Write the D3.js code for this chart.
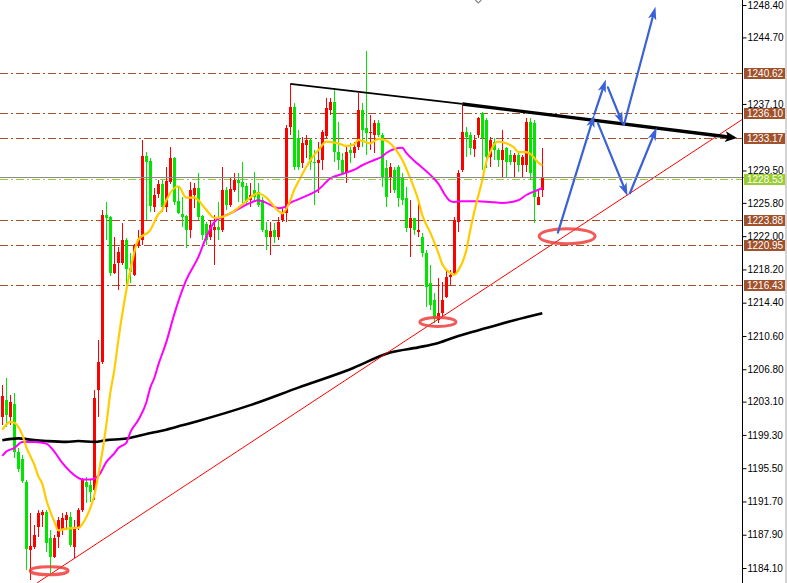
<!DOCTYPE html>
<html><head><meta charset="utf-8">
<script src="https://cdn.jsdelivr.net/npm/d3@7"></script>
<style>
body{margin:0;background:#fff;overflow:hidden}
svg{display:block}
text{font-family:"Liberation Sans",Arial,sans-serif;font-size:10px}
</style>
</head><body>
<svg id="c" width="787" height="583"></svg>
<script>
// ---------- DATA ----------
const opens=[1201.4,1203.3,1201.4,1202.8,1197.4,1196.6,1193.9,1186.2,1186.5,1188.8,
1190.2,1190.5,1187.5,1185.4,1187.6,1188.4,1189.6,1189.9,1186.5,1188.8,
1190.7,1193.9,1193.6,1193.0,1204.4,1207.6,1224.4,1224.2,1217.8,1218.9,
1218.9,1221.6,1218.4,1217.6,1220.9,1221.6,1231.1,1230.6,1225.3,1226.8,
1228.0,1225.3,1228.2,1230.9,1226.0,1224.5,1224.3,1222.7,1226.7,1227.5,
1224.3,1223.4,1221.9,1222.7,1223.0,1222.7,1227.3,1225.6,1227.3,1228.4,
1228.2,1227.7,1226.1,1227.3,1227.0,1226.1,1222.7,1221.9,1222.7,1221.9,
1223.8,1224.6,1234.5,1236.7,1233.2,1230.3,1232.4,1233.0,1230.5,1230.3,
1230.7,1233.4,1236.4,1237.3,1231.6,1230.7,1229.2,1231.8,1231.5,1232.2,
1236.4,1234.4,1233.8,1233.6,1234.9,1233.6,1229.8,1228.8,1229.6,1229.9,
1228.8,1226.4,1222.9,1224.1,1222.5,1221.9,1220.1,1216.7,1214.7,1212.4,
1213.2,1215.1,1217.3,1217.8,1223.6,1229.6,1233.9,1233.6,1232.0,1233.6,
1236.1,1235.3,1231.0,1232.7,1231.8,1230.7,1232.1,1231.3,1230.5,1231.3,
1230.1,1230.1,1235.0,1234.9,1225.6,1227.3];
const highs=[1205.0,1205.8,1203.9,1204.1,1197.8,1197.0,1194.2,1190.4,1189.0,1190.7,
1190.7,1190.7,1188.4,1187.9,1189.9,1190.4,1190.5,1190.5,1189.6,1191.0,
1194.4,1194.5,1194.2,1204.4,1210.1,1225.0,1225.9,1224.3,1221.9,1220.8,
1223.5,1221.8,1220.1,1221.1,1222.7,1233.0,1231.6,1230.9,1227.5,1228.4,
1228.4,1229.9,1232.2,1231.0,1227.6,1226.5,1224.4,1228.2,1228.1,1229.2,
1224.4,1223.6,1223.8,1224.4,1225.9,1229.9,1227.6,1228.6,1229.2,1229.2,
1230.5,1228.1,1228.1,1229.3,1228.1,1226.5,1223.6,1223.6,1223.5,1224.2,
1225.3,1234.7,1239.4,1237.2,1234.1,1233.3,1233.6,1233.2,1231.8,1232.8,
1234.1,1237.8,1237.8,1238.9,1235.0,1231.5,1232.2,1232.6,1232.8,1238.3,
1237.2,1243.1,1235.8,1235.3,1235.3,1233.8,1230.7,1230.4,1229.9,1230.1,
1229.2,1227.6,1226.1,1224.1,1226.1,1222.4,1220.4,1218.7,1215.5,1217.2,
1216.8,1218.1,1218.1,1224.2,1229.6,1237.0,1234.5,1233.9,1233.6,1235.6,
1236.2,1235.5,1233.3,1233.2,1232.1,1234.1,1232.2,1231.8,1231.5,1231.5,
1231.3,1235.5,1235.5,1235.3,1227.3,1232.1];
const lows=[1200.4,1200.2,1200.4,1196.7,1195.1,1193.8,1183.9,1182.7,1186.3,1187.6,
1188.8,1185.9,1183.5,1185.2,1186.4,1187.9,1188.4,1186.5,1185.2,1188.4,
1190.5,1191.5,1191.6,1191.9,1201.4,1207.4,1221.6,1217.5,1217.7,1215.9,
1218.7,1216.2,1216.6,1217.4,1220.6,1221.0,1223.8,1224.8,1224.8,1226.4,
1224.8,1224.8,1228.0,1225.6,1224.5,1223.0,1220.6,1221.8,1225.2,1223.8,
1221.6,1221.0,1221.6,1218.7,1221.6,1222.5,1225.0,1225.3,1227.0,1225.9,
1225.8,1225.6,1225.3,1225.9,1225.3,1222.5,1220.4,1219.9,1221.2,1221.6,
1223.6,1223.6,1233.6,1229.6,1229.6,1229.8,1230.9,1229.6,1225.6,1226.9,
1229.6,1233.2,1235.8,1230.5,1229.6,1229.0,1228.1,1230.4,1230.9,1231.8,
1232.2,1231.3,1231.8,1231.5,1233.3,1227.6,1225.3,1226.9,1226.9,1225.3,
1225.6,1222.5,1219.6,1222.1,1221.9,1219.6,1213.9,1213.6,1212.1,1212.1,
1212.8,1214.9,1216.4,1217.6,1222.5,1229.3,1231.0,1231.3,1231.0,1233.2,
1229.6,1229.8,1229.9,1230.7,1229.9,1228.8,1228.6,1230.1,1228.6,1229.3,
1228.6,1229.3,1228.4,1223.5,1225.6,1226.5];
const closes=[1203.7,1201.6,1203.1,1197.4,1195.4,1194.0,1186.3,1186.6,1187.9,1190.4,
1190.5,1187.0,1185.4,1187.5,1189.6,1189.8,1190.2,1186.7,1188.8,1190.7,
1194.2,1193.4,1192.8,1203.5,1207.6,1224.4,1224.1,1217.8,1218.8,1220.2,
1221.6,1218.3,1217.9,1221.0,1221.7,1231.1,1230.5,1225.4,1226.7,1228.0,
1225.3,1228.3,1230.9,1225.9,1224.6,1224.2,1222.7,1227.3,1227.5,1224.2,
1222.1,1221.6,1223.3,1223.0,1222.7,1227.3,1225.6,1227.4,1228.4,1228.1,
1227.6,1225.9,1226.7,1226.5,1225.6,1222.7,1221.9,1222.6,1221.9,1223.6,
1224.8,1234.4,1236.7,1229.9,1229.9,1232.6,1233.0,1230.5,1230.3,1230.7,
1233.9,1236.6,1237.3,1231.6,1230.7,1229.2,1231.6,1231.5,1232.2,1236.4,
1234.1,1233.8,1233.9,1234.9,1233.6,1228.6,1226.5,1229.9,1227.3,1226.4,
1226.1,1222.9,1224.1,1222.7,1222.7,1220.1,1216.2,1214.1,1212.7,1213.2,
1214.7,1217.3,1217.6,1223.8,1229.2,1233.9,1233.3,1232.1,1233.0,1235.5,
1233.2,1231.0,1233.0,1231.8,1230.7,1231.8,1230.5,1230.5,1231.3,1230.1,
1231.0,1235.0,1229.2,1226.5,1226.5,1228.6];

// moving averages: [bar index, price]
const maFast=[[0,1199.9],[2,1200.8],[3,1200.7],[5,1199.3],[6,1197.9],[8,1195.9],[9,1194.6],[10,1193.7],[11,1191.9],[13,1189.4],[14,1188.4],[16,1188.6],[19,1188.7],[21,1189.9],[23,1192.4],[24,1194.7],[26,1200.4],[27,1204.1],[28,1206.7],[29,1210.1],[31,1215.8],[32,1218.1],[34,1221.6],[37,1222.7],[39,1224.5],[40,1225.0],[41,1226.1],[44,1227.7],[46,1226.4],[48,1226.4],[51,1225.0],[53,1224.1],[55,1224.2],[57,1224.6],[60,1225.6],[64,1226.9],[66,1226.4],[69,1224.9],[70,1224.6],[72,1226.1],[73,1227.3],[74,1228.2],[76,1229.9],[78,1231.3],[79,1231.8],[81,1232.8],[84,1232.6],[86,1232.3],[88,1232.5],[89,1233.0],[92,1232.6],[94,1233.1],[96,1232.9],[98,1232.1],[100,1230.7],[102,1228.6],[104,1226.1],[105,1224.4],[107,1222.4],[109,1220.1],[110,1218.8],[112,1217.8],[113,1217.6],[114,1218.1],[116,1220.4],[117,1222.7],[118,1224.8],[120,1228.4],[121,1230.5],[122,1231.6],[123,1232.5],[124,1232.8],[126,1232.6],[128,1232.1],[129,1231.6],[131,1231.6],[132,1231.4],[134,1230.4],[135,1230.1]];
const maMid=[[0,1196.9],[1,1197.4],[3,1197.8],[5,1198.5],[8,1198.5],[10,1198.4],[11,1198.3],[13,1197.4],[15,1196.1],[17,1195.1],[19,1194.4],[20,1194.2],[22,1194.2],[24,1194.6],[26,1196.2],[28,1197.2],[29,1197.8],[31,1198.4],[32,1199.6],[34,1201.0],[36,1203.0],[37,1204.7],[38,1205.8],[39,1207.3],[41,1209.9],[43,1213.1],[46,1217.0],[49,1219.6],[51,1221.9],[53,1223.6],[55,1224.2],[57,1224.6],[59,1225.1],[62,1225.8],[64,1226.1],[66,1225.8],[69,1225.2],[71,1225.4],[72,1225.8],[74,1226.2],[77,1226.8],[79,1227.3],[82,1228.6],[85,1229.1],[88,1229.6],[90,1230.1],[93,1230.7],[95,1231.1],[96,1231.5],[100,1232.1],[101,1231.5],[104,1230.2],[107,1229.0],[109,1228.0],[111,1226.5],[112,1226.0],[113,1225.9],[115,1226.0],[119,1226.0],[122,1225.9],[125,1225.8],[129,1226.1],[131,1226.7],[134,1227.3],[135,1227.5]];
const maSlow=[[0,1198.7],[4,1198.9],[8,1198.7],[11,1198.6],[16,1198.5],[19,1198.6],[23,1198.5],[26,1198.7],[31,1198.9],[35,1199.3],[38,1199.6],[41,1199.9],[45,1200.4],[49,1200.9],[62,1202.7],[74,1204.7],[87,1206.8],[97,1208.7],[104,1209.3],[109,1209.8],[114,1210.6],[121,1211.5],[128,1212.4],[135,1213.2]];

// visible scale ticks (1240.90 and 1233.30 are hidden under price tags in the original)
const yTicks=[1248.40,1244.70,1237.10,1229.50,1225.80,1222.00,1218.20,1214.40,1210.60,1206.80,1203.10,1199.30,1195.50,1191.70,1187.90,1184.10];
const levelPrices=[1240.62,1236.10,1233.17,1223.88,1220.95,1216.43];
const bidPrice=1228.72;
const askPrice=1228.53;

// annotations in [bar index, price]
const resistanceLine=[[72,1239.4],[115,1237.1],[183.7,1233.2]];
const supportLine=[[8.7,1182.4],[184.9,1235.3]];
const circledPoints=[[11.7,1183.8],[108.9,1212.2],[141.2,1222.0]];
const forecastArrows=[
 [[138.9,1222.4],[148.0,1235.9]],
 [[148.0,1235.9],[150.9,1239.9]],
 [[151.4,1239.0],[155.2,1234.7]],
 [[155.4,1234.7],[163.3,1248.2]],
 [[148.9,1234.9],[156.3,1226.6]],
 [[156.9,1226.9],[163.6,1234.4]]
];
const topMarker=[119,1249.0];

// ---------- DRAW ----------
const W=787,H=583,axisX=742;
const svg=d3.select("#c");
const x=d3.scaleLinear().domain([0,135]).range([2.3,542.3]);
const y=d3.scaleLinear().domain([1184.1,1248.4]).range([568,5]);

svg.append("rect").attr("width",W).attr("height",H).attr("fill","#fff");
svg.append("defs").append("clipPath").attr("id","plot")
  .append("rect").attr("x",0).attr("y",0).attr("width",axisX).attr("height",H);
const g=svg.append("g").attr("clip-path","url(#plot)");

// level lines
g.selectAll("line.lvl").data(levelPrices).join("line")
 .attr("x1",0).attr("x2",axisX)
 .attr("y1",d=>Math.round(y(d))+0.5).attr("y2",d=>Math.round(y(d))+0.5)
 .attr("stroke","#a0522d").attr("stroke-width",1).attr("stroke-dasharray","8,3,2,3");
// bid / ask lines
svg.append("line").attr("x1",0).attr("x2",W)
 .attr("y1",Math.round(y(bidPrice))+0.5).attr("y2",Math.round(y(bidPrice))+0.5)
 .attr("stroke","#8a8a8a").attr("stroke-width",1);
g.append("line").attr("x1",0).attr("x2",axisX)
 .attr("y1",Math.round(y(askPrice))+0.5).attr("y2",Math.round(y(askPrice))+0.5)
 .attr("stroke","#9acd32").attr("stroke-width",1).attr("stroke-dasharray","8,3,2,3");

// candles
const bars=opens.map((o,i)=>({i,o,h:highs[i],l:lows[i],c:closes[i]}));
const col=d=>d.c>=d.o?"#ff0000":"#00e600";
const cg=g.append("g").attr("shape-rendering","crispEdges");
cg.selectAll("line.w").data(bars).join("line")
 .attr("x1",d=>Math.round(x(d.i))+0.5).attr("x2",d=>Math.round(x(d.i))+0.5)
 .attr("y1",d=>y(d.h)).attr("y2",d=>y(d.l))
 .attr("stroke",col).attr("stroke-width",1);
cg.selectAll("rect.b").data(bars).join("rect")
 .attr("x",d=>Math.round(x(d.i))-1).attr("width",3)
 .attr("y",d=>y(Math.max(d.o,d.c)))
 .attr("height",d=>Math.max(1,Math.abs(y(d.o)-y(d.c))))
 .attr("fill",col);

// moving averages
const line=d3.line().x(d=>x(d[0])).y(d=>y(d[1])).curve(d3.curveMonotoneX);
g.append("path").attr("d",line(maSlow)).attr("fill","none").attr("stroke","#000").attr("stroke-width",2.6);
g.append("path").attr("d",line(maMid)).attr("fill","none").attr("stroke","#ff00ff").attr("stroke-width",2);
g.append("path").attr("d",line(maFast)).attr("fill","none").attr("stroke","#ffcc00").attr("stroke-width",2.2);

// support (red) line
g.append("line")
 .attr("x1",x(supportLine[0][0])).attr("y1",y(supportLine[0][1]))
 .attr("x2",x(supportLine[1][0])).attr("y2",y(supportLine[1][1]))
 .attr("stroke","#ff0000").attr("stroke-width",1);

// resistance (black) line
const r=resistanceLine.map(p=>[x(p[0]),y(p[1])]);
g.append("line").attr("x1",r[0][0]).attr("y1",r[0][1]).attr("x2",r[1][0]).attr("y2",r[1][1])
 .attr("stroke","#000").attr("stroke-width",1.8);
function head(sel,p0,p1,len,half,color){
  const dx=p1[0]-p0[0],dy=p1[1]-p0[1],L=Math.hypot(dx,dy),ux=dx/L,uy=dy/L;
  const bx=p1[0]-ux*len,by=p1[1]-uy*len;
  sel.append("path").attr("d",`M${p1[0]},${p1[1]}L${bx-uy*half},${by+ux*half}L${bx+ux*len*0.25},${by+uy*len*0.25}L${bx+uy*half},${by-ux*half}Z`).attr("fill",color);
  return [bx+ux*len*0.3,by+uy*len*0.3];
}
{
  const end=head(svg,r[1],r[2],12,5.5,"#000");
  g.append("line").attr("x1",r[1][0]).attr("y1",r[1][1]).attr("x2",end[0]).attr("y2",end[1])
   .attr("stroke","#000").attr("stroke-width",3.4);
}

// circled points
const ellSize=[[19,4],[18,4.5],[28,7.5]];
g.selectAll("ellipse").data(circledPoints).join("ellipse")
 .attr("cx",d=>x(d[0])).attr("cy",d=>y(d[1]))
 .attr("rx",(d,i)=>ellSize[i][0]).attr("ry",(d,i)=>ellSize[i][1])
 .attr("fill","none").attr("stroke","#f03c3c").attr("stroke-width",3).attr("opacity",0.85);

// forecast arrows
const blue="#3a62d6";
forecastArrows.forEach(a=>{
  const p0=[x(a[0][0]),y(a[0][1])],p1=[x(a[1][0]),y(a[1][1])];
  const end=head(g,p0,p1,13,4.2,blue);
  g.append("line").attr("x1",p0[0]).attr("y1",p0[1]).attr("x2",end[0]).attr("y2",end[1])
   .attr("stroke",blue).attr("stroke-width",2.2).attr("stroke-linecap","round");
});

// small marker at top
{
  const mx=x(topMarker[0]),my=Math.max(0,y(topMarker[1]));
  g.append("path").attr("d",`M${mx-3},${my}L${mx},${my+3}L${mx+3},${my}`)
   .attr("fill","none").attr("stroke","#888").attr("stroke-width",1.2);
}

// axis
svg.append("line").attr("x1",axisX+0.5).attr("x2",axisX+0.5).attr("y1",0).attr("y2",H)
 .attr("stroke","#000").attr("stroke-width",1);
const ax=svg.append("g").attr("transform",`translate(${axisX+0.5},0)`)
 .call(d3.axisRight(y).tickValues(yTicks).tickSize(4).tickSizeOuter(0).tickPadding(1).tickFormat(d3.format(".2f")));
ax.select(".domain").remove();
ax.selectAll("text").attr("fill","#000").style("font-family","'Liberation Sans',Arial,sans-serif").style("font-size","10px");
ax.selectAll("line").attr("stroke","#000");

// price labels
function tag(p,color){
  const yy=Math.round(y(p));
  svg.append("rect").attr("x",axisX+2).attr("y",yy-5).attr("width",41).attr("height",11).attr("fill",color);
  svg.append("text").attr("x",axisX+5).attr("y",yy+4).attr("fill","#fff").text(d3.format(".2f")(p));
}
levelPrices.forEach(p=>tag(p,"#a0522d"));
tag(askPrice,"#9acd32");
svg.append("rect").attr("x",785).attr("y",0).attr("width",2).attr("height",H).attr("fill","#d4d4d4");
</script>
</body></html>
